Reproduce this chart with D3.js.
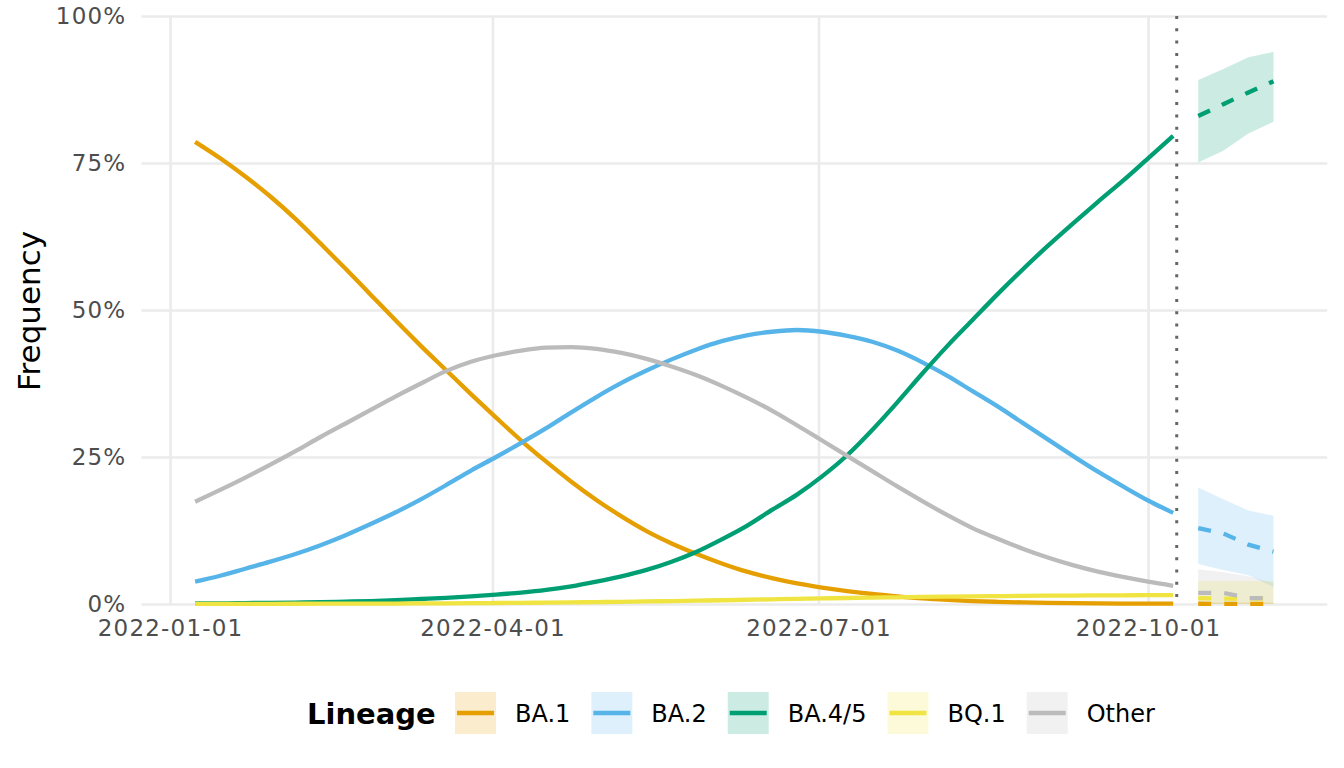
<!DOCTYPE html>
<html>
<head>
<meta charset="utf-8">
<script src="https://cdn.jsdelivr.net/npm/d3@7"></script>
<style>
  body { margin: 0; background: #ffffff; }
  svg { display: block; font-family: "DejaVu Sans", sans-serif; }
</style>
</head>
<body>
<script>
// ---------------- DATA ----------------
const lineages = ["BA.1", "BA.2", "BA.4/5", "BQ.1", "Other"];
const colors = ["#E69F00", "#56B4E9", "#009E73", "#F0E442", "#BBBBBB"];

const obsDates = [
  "2022-01-08","2022-01-15","2022-01-22","2022-01-29",
  "2022-02-05","2022-02-12","2022-02-19","2022-02-26",
  "2022-03-05","2022-03-12","2022-03-19","2022-03-26",
  "2022-04-02","2022-04-09","2022-04-16","2022-04-23","2022-04-30",
  "2022-05-07","2022-05-14","2022-05-21","2022-05-28",
  "2022-06-04","2022-06-11","2022-06-18","2022-06-25",
  "2022-07-02","2022-07-09","2022-07-16","2022-07-23","2022-07-30",
  "2022-08-06","2022-08-13","2022-08-20","2022-08-27",
  "2022-09-03","2022-09-10","2022-09-17","2022-09-24",
  "2022-10-01","2022-10-08"
];

// observed frequencies (%)
const ba1 = [78.6,75.8,72.7,69.3,65.5,61.3,57.0,52.6,48.2,43.9,39.8,35.7,31.7,27.8,24.2,20.8,17.7,14.9,12.4,10.3,8.5,6.9,5.5,4.4,3.5,2.8,2.2,1.7,1.3,0.95,0.7,0.5,0.37,0.27,0.2,0.15,0.11,0.08,0.06,0.05];
const ba2 = [3.8,4.8,6.0,7.2,8.5,10.0,11.7,13.6,15.6,17.8,20.2,22.7,25.0,27.4,29.9,32.6,35.2,37.6,39.7,41.6,43.3,44.7,45.7,46.3,46.6,46.3,45.6,44.6,43.1,41.1,38.8,36.2,33.6,30.8,28.0,25.2,22.5,20.0,17.6,15.5];
const ba45 = [0.1,0.1,0.15,0.2,0.25,0.3,0.4,0.5,0.65,0.85,1.05,1.3,1.6,1.95,2.4,3.0,3.8,4.7,5.8,7.2,8.9,11.0,13.3,16.0,18.6,21.7,25.3,29.6,34.3,39.2,43.9,48.3,52.7,56.9,60.9,64.7,68.4,72.0,75.8,79.6];
const bq1 = [0.02,0.02,0.03,0.03,0.04,0.05,0.06,0.07,0.08,0.1,0.12,0.14,0.17,0.2,0.23,0.27,0.32,0.37,0.43,0.5,0.57,0.64,0.72,0.8,0.88,0.95,1.02,1.08,1.14,1.2,1.25,1.3,1.34,1.38,1.41,1.44,1.46,1.48,1.5,1.5];
const other = [17.4,19.4,21.5,23.7,26.0,28.4,30.7,33.0,35.3,37.5,39.6,41.2,42.3,43.1,43.6,43.7,43.4,42.7,41.7,40.4,38.9,37.1,35.1,32.9,30.4,27.8,25.2,22.6,20.0,17.5,15.1,12.9,11.1,9.4,7.9,6.6,5.5,4.6,3.8,3.1];

// forecast (%): median, lower, upper
const fcDates = ["2022-10-15","2022-10-22","2022-10-29","2022-11-05"];
const ba1Fc   = [0.04,0.03,0.03,0.02];
const ba1Lo   = [0,0,0,0];
const ba1Hi   = [0.3,0.3,0.3,0.3];
const ba2Fc   = [12.9,12.0,10.1,8.9];
const ba2Lo   = [6.8,5.8,4.9,2.9];
const ba2Hi   = [19.8,17.8,15.9,15.0];
const ba45Fc  = [83.0,85.0,87.0,88.9];
const ba45Lo  = [75.1,77.1,80.0,82.0];
const ba45Hi  = [89.1,91.0,93.0,93.9];
const bq1Fc   = [1.0,0.9,0.9,0.9];
const bq1Lo   = [0,0,0,0];
const bq1Hi   = [3.9,3.9,3.9,3.9];
const otherFc = [1.9,1.9,1.0,1.0];
const otherLo = [0,0,0,0];
const otherHi = [5.9,5.4,4.7,3.6];

const forecastStart = "2022-10-09";
const xTickLabels = ["2022-01-01","2022-04-01","2022-07-01","2022-10-01"];
const yTickValues = [0, 25, 50, 75, 100];
const yTitle = "Frequency";
const legendTitle = "Lineage";

// ---------------- CHART ----------------
const parse = d3.utcParse("%Y-%m-%d");
const W = 1344, H = 768;
const panel = {left: 141.4, right: 1327.2, top: 16, bottom: 604};

const x = d3.scaleUtc()
  .domain([parse("2021-12-24"), parse("2022-11-20")])
  .range([panel.left, panel.right]);
const y = d3.scaleLinear().domain([0, 100]).range([panel.bottom, panel.top]);

const obs = [ba1, ba2, ba45, bq1, other];
const fcMid = [ba1Fc, ba2Fc, ba45Fc, bq1Fc, otherFc];
const fcLo = [ba1Lo, ba2Lo, ba45Lo, bq1Lo, otherLo];
const fcHi = [ba1Hi, ba2Hi, ba45Hi, bq1Hi, otherHi];

const svg = d3.select("body").append("svg").attr("width", W).attr("height", H);
svg.append("rect").attr("width", W).attr("height", H).attr("fill", "#fff");

const gridColor = "#EBEBEB";
// horizontal grid
svg.append("g")
  .attr("transform", `translate(${panel.left},0)`)
  .call(d3.axisLeft(y).tickValues(yTickValues).tickSize(-(panel.right - panel.left)).tickFormat(""))
  .call(g => g.select(".domain").remove())
  .call(g => g.selectAll("line").attr("stroke", gridColor).attr("stroke-width", 2.6));
// vertical grid
svg.append("g")
  .attr("transform", `translate(0,${panel.bottom})`)
  .call(d3.axisBottom(x).tickValues(xTickLabels.map(parse)).tickSize(-(panel.bottom - panel.top)).tickFormat(""))
  .call(g => g.select(".domain").remove())
  .call(g => g.selectAll("line").attr("stroke", gridColor).attr("stroke-width", 2.6));

// ribbons
const area = d3.area()
  .x(d => x(d.date)).y0(d => y(d.lo)).y1(d => y(d.hi));
lineages.forEach((name, k) => {
  const data = fcDates.map((d, i) => ({date: parse(d), lo: fcLo[k][i], hi: fcHi[k][i]}));
  svg.append("path").datum(data)
    .attr("d", area)
    .attr("fill", colors[k]).attr("fill-opacity", 0.2).attr("stroke", "none");
});

// lines
const smoothLine = d3.line().curve(d3.curveMonotoneX).x(d => x(d.date)).y(d => y(d.v));
const line = d3.line().x(d => x(d.date)).y(d => y(d.v));
lineages.forEach((name, k) => {
  const data = obsDates.map((d, i) => ({date: parse(d), v: obs[k][i]}));
  svg.append("path").datum(data)
    .attr("d", smoothLine)
    .attr("fill", "none").attr("stroke", colors[k])
    .attr("stroke-width", 4.3).attr("stroke-linejoin", "round").attr("stroke-linecap", "butt");
});
lineages.forEach((name, k) => {
  const data = fcDates.map((d, i) => ({date: parse(d), v: fcMid[k][i]}));
  svg.append("path").datum(data)
    .attr("d", line)
    .attr("fill", "none").attr("stroke", colors[k])
    .attr("stroke-width", 4.3).attr("stroke-dasharray", "13,13").attr("stroke-linecap", "butt");
});

// forecast start dotted line
svg.append("line")
  .attr("x1", x(parse(forecastStart))).attr("x2", x(parse(forecastStart)))
  .attr("y1", panel.top).attr("y2", panel.bottom)
  .attr("stroke", "#666666").attr("stroke-width", 3).attr("stroke-dasharray", "3,9.3");

// y axis labels
svg.append("g")
  .attr("transform", `translate(${panel.left},0)`)
  .call(d3.axisLeft(y).tickValues(yTickValues).tickSize(0).tickPadding(15).tickFormat(d => d + "%"))
  .call(g => g.select(".domain").remove())
  .call(g => g.selectAll("text")
    .attr("fill", "#4D4D4D").style("font-size", "23px").style("letter-spacing", "1.2px")
    .attr("font-family", "DejaVu Sans"));

// x axis labels
svg.append("g")
  .attr("transform", `translate(0,${panel.bottom})`)
  .call(d3.axisBottom(x).tickValues(xTickLabels.map(parse)).tickSize(0).tickPadding(16).tickFormat(d3.utcFormat("%Y-%m-%d")))
  .call(g => g.select(".domain").remove())
  .call(g => g.selectAll("text")
    .attr("fill", "#4D4D4D").style("font-size", "23px").style("letter-spacing", "1.2px")
    .attr("font-family", "DejaVu Sans"));

// y title
svg.append("text")
  .attr("transform", `translate(40,311) rotate(-90)`)
  .attr("text-anchor", "middle")
  .style("font-size", "31px").attr("fill", "#000")
  .text(yTitle);

// legend
const legY = 692, keyW = 41, keyH = 42;
svg.append("text")
  .attr("x", 307).attr("y", 723.5)
  .style("font-size", "29px").style("font-weight", "bold").attr("fill", "#000")
  .text(legendTitle);
let kx = 455;
lineages.forEach((name, k) => {
  const g = svg.append("g");
  g.append("rect").attr("x", kx).attr("y", legY).attr("width", keyW).attr("height", keyH)
    .attr("fill", colors[k]).attr("fill-opacity", 0.2);
  g.append("line").attr("x1", kx + 2).attr("x2", kx + keyW - 2)
    .attr("y1", legY + keyH / 2).attr("y2", legY + keyH / 2)
    .attr("stroke", colors[k]).attr("stroke-width", 4.3);
  const t = g.append("text").attr("x", kx + 60).attr("y", 721.7)
    .style("font-size", "24px").attr("fill", "#000").text(name);
  kx = kx + 60 + t.node().getComputedTextLength() + 21;
});
</script>
</body>
</html>
